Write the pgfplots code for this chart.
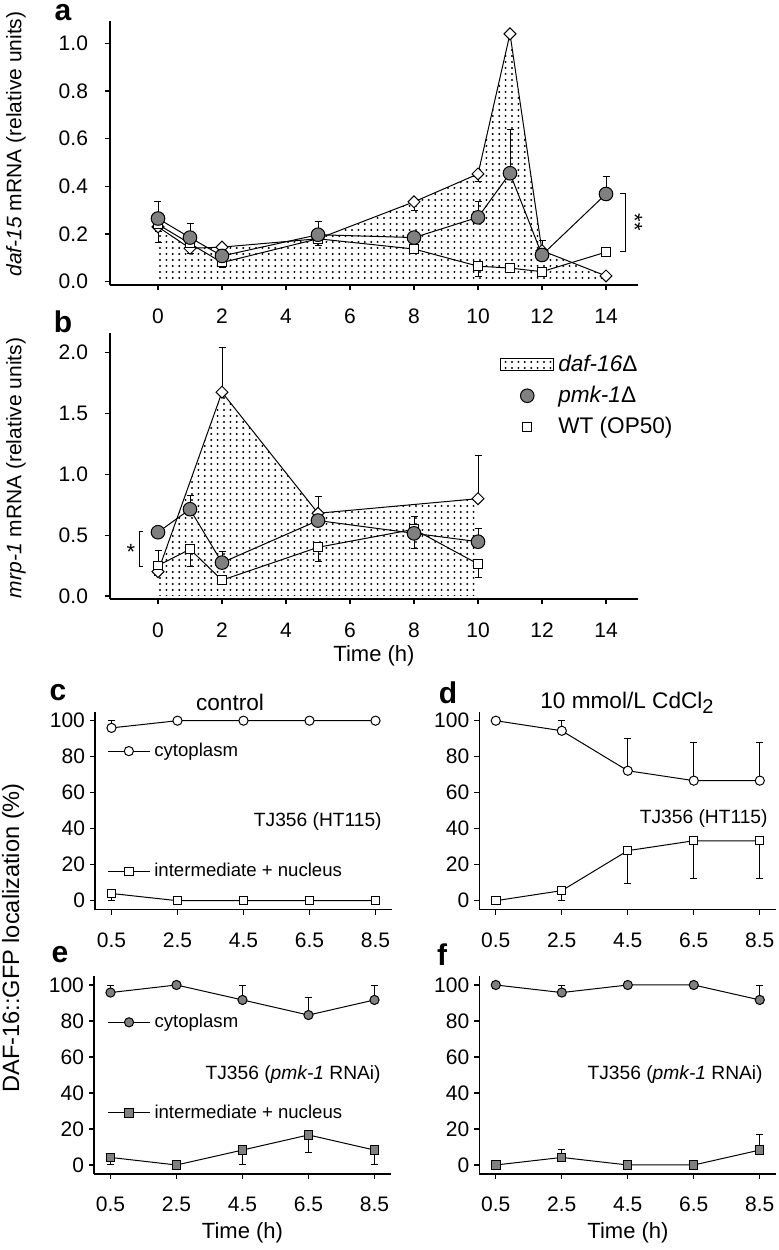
\documentclass[border=0pt]{standalone}
\usepackage{fontspec}
\setmainfont{Liberation Sans}
\usepackage{pgfplots}
\pgfplotsset{compat=1.18}
\usepackage{pgfplotstable}
\usetikzlibrary{patterns}

\definecolor{markgray}{RGB}{128,128,128}
\newcommand{\fs}[1]{\fontsize{#1}{#1}\selectfont}

% sparse dot fill used for daf-16
\pgfdeclarepatternformonly{sdots}{\pgfqpoint{-0.7pt}{-0.7pt}}{\pgfqpoint{0.7pt}{0.7pt}}{\pgfqpoint{3.2pt}{3pt}}%
  {\pgfpathcircle{\pgfpointorigin}{0.55pt}\pgfusepath{fill}}

% panel a : daf-15 mRNA
\pgfplotstableread{
x  y     ep    em
0  0.23  0     0.066
1  0.14  0     0.02
2  0.145 0     0
5  0.18  0     0.03
8  0.335 0     0.037
10 0.452 0     0.032
11 1.04  0     0
12 0.13  0     0
14 0.024 0     0
}\aDia
\pgfplotstableread{
x  y     ep    em
0  0.24  0     0.03
1  0.16  0     0
2  0.08  0     0.02
5  0.18  0     0.03
8  0.137 0     0
10 0.065 0     0.045
11 0.057 0     0
12 0.042 0     0
14 0.124 0     0
}\aSq
\pgfplotstableread{
x  y     ep    em
0  0.265 0.07  0
1  0.185 0.06  0
2  0.108 0.02  0
5  0.197 0.055 0
8  0.185 0     0
10 0.27  0.065 0
11 0.455 0.185 0
12 0.112 0.06  0
14 0.368 0.072 0
}\aCirc

% panel b : mrp-1 mRNA
\pgfplotstableread{
x  y     ep    em
0  0.2   0     0.035
2  1.675 0.37  0
5  0.68  0.136 0
10 0.80  0.353 0
}\bDia
\pgfplotstableread{
x  y     ep    em
0  0.25  0.12  0.085
1  0.384 0     0.144
2  0.13  0     0.02
5  0.40  0     0.12
8  0.548 0     0
10 0.263 0     0.11
}\bSq
\pgfplotstableread{
x  y     ep    em
0  0.524 0.03  0
1  0.713 0.11  0
2  0.274 0.09  0
5  0.62  0.07  0
8  0.515 0.135 0.125
10 0.446 0.11  0
}\bCirc

% panels c-f : DAF-16::GFP localization
\pgfplotstableread{
x   y     ep   em
0.5 96    4    0
2.5 100   0    0
4.5 100   0    0
6.5 100   0    0
8.5 100   0    0
}\cCyt
\pgfplotstableread{
x   y     ep   em
0.5 4     0    4
2.5 0     0    0
4.5 0     0    0
6.5 0     0    0
8.5 0     0    0
}\cInt
\pgfplotstableread{
x   y     ep   em
0.5 100   0    0
2.5 94.4  5.6  0
4.5 72.2  17.8 0
6.5 66.7  21   0
8.5 66.7  21   0
}\dCyt
\pgfplotstableread{
x   y     ep   em
0.5 0     0    0
2.5 5.6   0    5.6
4.5 27.8  0    18
6.5 33.3  0    21
8.5 33.3  0    21
}\dInt
\pgfplotstableread{
x   y     ep   em
0.5 95.8  4.2  0
2.5 100   0    0
4.5 91.7  8.3  0
6.5 83.3  9.6  0
8.5 91.7  8.3  0
}\eCyt
\pgfplotstableread{
x   y     ep   em
0.5 4.2   0    4.2
2.5 0     0    0
4.5 8.3   0    8.3
6.5 16.7  0    9.5
8.5 8.3   0    8.3
}\eInt
\pgfplotstableread{
x   y     ep   em
0.5 100   0    0
2.5 95.8  4.2  0
4.5 100   0    0
6.5 100   0    0
8.5 91.7  8.3  0
}\fCyt
\pgfplotstableread{
x   y     ep   em
0.5 0     0    0
2.5 4.2   4.5  0
4.5 0     0    0
6.5 0     0    0
8.5 8.3   8.4  0
}\fInt

\pgfplotsset{
  sp/.style={scale only axis, axis lines=left, axis line style={-, line width=0.7pt},
    tick align=outside, major tick length=2.5pt, tick style={black, line width=0.6pt},
    ticklabel style={font=\fs{10.5}}, /pgf/number format/assume math mode=true,
    clip=false},
  eb/.style={error bars/y dir=both, error bars/y explicit,
    error bars/error bar style={line width=0.5pt, black},
    error bars/error mark options={rotate=90, line width=0.5pt, mark size=1.75pt, black}},
  circ/.style={black, line width=0.5pt, mark=*, mark size=#1,
    mark options={draw=black, fill=markgray, line width=0.5pt}},
  ocirc/.style={black, line width=0.5pt, mark=*, mark size=#1,
    mark options={draw=black, fill=white, line width=0.5pt}},
  sq/.style={black, line width=0.5pt, mark=square*, mark size=#1,
    mark options={draw=black, fill=white, line width=0.5pt}},
  gsq/.style={black, line width=0.5pt, mark=square*, mark size=#1,
    mark options={draw=black, fill=markgray, line width=0.5pt}},
  dia/.style={black, line width=0.5pt, mark=square*, mark size=2.1pt,
    mark options={rotate=45, draw=black, fill=white, line width=0.5pt}},
  mrna/.style={sp, width=264pt, xmin=-1.5, xmax=15, xtick={0,2,...,14},
    xticklabel style={yshift=-6pt},
    yticklabel style={xshift=-5pt, /pgf/number format/.cd, fixed, fixed zerofill, precision=1}},
  lim/.style={sp, xmin=0, xmax=9, ymin=-5, ymax=105, width=148.5pt, height=99pt,
    xtick={0.5,2.5,4.5,6.5,8.5}, ytick={0,20,40,60,80,100},
    xticklabel style={yshift=-5.5pt, /pgf/number format/.cd, fixed, fixed zerofill, precision=1},
    yticklabel style={xshift=1pt}},
  leg/.style={legend style={draw=none, fill=none, font=\fs{9.3}, row sep=#1},
    legend cell align=left,
    legend image code/.code={\draw[mark repeat=2, mark phase=2]
      plot coordinates {(0pt,0pt) (10.5pt,0pt) (21pt,0pt)};}},
}

\begin{document}
\begin{tikzpicture}
\path[use as bounding box] (0,0) rectangle (389.5pt,625pt);

% ---- a ----
\begin{axis}[mrna, at={(55pt,482.5pt)}, anchor=south west, height=132pt,
  ymin=-0.014, ymax=1.094, ytick={0,0.2,0.4,0.6,0.8,1.0}]
\addplot[draw=none, pattern=sdots, forget plot] table[x=x, y=y] {\aDia} \closedcycle;
\addplot[dia, eb] table[x=x, y=y, y error plus=ep, y error minus=em] {\aDia};
\addplot[sq=2.2pt, eb] table[x=x, y=y, y error plus=ep, y error minus=em] {\aSq};
\addplot[circ=3.4pt, eb] table[x=x, y=y, y error plus=ep, y error minus=em] {\aCirc};
\draw[line width=0.5pt] (axis cs:14.45,0.368) -- (axis cs:14.6,0.368) -- (axis cs:14.6,0.125) -- (axis cs:14.45,0.125);
\node[rotate=-90, font=\fs{11}] at (axis cs:14.9,0.25) {**};
\end{axis}

% ---- b ----
\begin{axis}[mrna, at={(55pt,325.5pt)}, anchor=south west, height=133pt,
  ymin=-0.025, ymax=2.162, ytick={0,0.5,1,1.5,2},
  legend style={at={(0.727,0.95)}, anchor=north west, draw=none, fill=none,
    font=\fs{11.3}, row sep=2pt}, legend cell align=left]
\addplot[draw=none, pattern=sdots, forget plot] table[x=x, y=y] {\bDia} \closedcycle;
\addplot[dia, eb, forget plot] table[x=x, y=y, y error plus=ep, y error minus=em] {\bDia};
\addplot[sq=2.2pt, eb, forget plot] table[x=x, y=y, y error plus=ep, y error minus=em] {\bSq};
\addplot[circ=3.4pt, eb, forget plot] table[x=x, y=y, y error plus=ep, y error minus=em] {\bCirc};
\draw[line width=0.5pt] (axis cs:-0.46,0.526) -- (axis cs:-0.59,0.526) -- (axis cs:-0.59,0.241) -- (axis cs:-0.46,0.241);
\node[font=\fs{11}] at (axis cs:-0.85,0.36) {*};
\addlegendimage{legend image code/.code={\draw[pattern=sdots, line width=0.5pt] (0pt,-3pt) rectangle (26.5pt,3pt);}}
\addlegendentry{\textit{daf-16}Δ}
\addlegendimage{only marks, mark=*, mark size=3.4pt, mark options={draw=black, fill=markgray, line width=0.5pt},
  legend image code/.code={\draw plot coordinates {(13.25pt,0pt)};}}
\addlegendentry{\textit{pmk-1}Δ}
\addlegendimage{only marks, mark=square*, mark size=2.2pt, mark options={draw=black, fill=white, line width=0.5pt},
  legend image code/.code={\draw plot coordinates {(13.25pt,0pt)};}}
\addlegendentry{WT (OP50)}
\end{axis}

% ---- c ----
\begin{axis}[lim, leg=48pt, at={(47.5pt,170.15pt)}, anchor=south west,
  legend style={at={(0.02,0.885)}, anchor=north west}]
\addplot[ocirc=2.3pt, eb] table[x=x, y=y, y error plus=ep, y error minus=em] {\cCyt};
\addlegendentry{cytoplasm}
\addplot[sq=2.1pt, eb] table[x=x, y=y, y error plus=ep, y error minus=em] {\cInt};
\addlegendentry{intermediate + nucleus}
\node[anchor=east, font=\fs{9.6}] at (axis cs:8.9,44) {TJ356 (HT115)};
\end{axis}

% ---- d ----
\begin{axis}[lim, at={(239.65pt,170.15pt)}, anchor=south west]
\addplot[ocirc=2.3pt, eb] table[x=x, y=y, y error plus=ep, y error minus=em] {\dCyt};
\addplot[sq=2.1pt, eb] table[x=x, y=y, y error plus=ep, y error minus=em] {\dInt};
\node[anchor=east, font=\fs{9.6}] at (axis cs:8.95,45.5) {TJ356 (HT115)};
\end{axis}

% ---- e ----
\begin{axis}[lim, leg=33pt, at={(47pt,38pt)}, anchor=south west,
  legend style={at={(0.024,0.85)}, anchor=north west}]
\addplot[circ=2.3pt, eb] table[x=x, y=y, y error plus=ep, y error minus=em] {\eCyt};
\addlegendentry{cytoplasm}
\addplot[gsq=2.1pt, eb] table[x=x, y=y, y error plus=ep, y error minus=em] {\eInt};
\addlegendentry{intermediate + nucleus}
\node[anchor=east, font=\fs{9.6}] at (axis cs:8.9,50) {TJ356 (\textit{pmk-1} RNAi)};
\end{axis}

% ---- f ----
\begin{axis}[lim, at={(239.65pt,38pt)}, anchor=south west]
\addplot[circ=2.3pt, eb] table[x=x, y=y, y error plus=ep, y error minus=em] {\fCyt};
\addplot[gsq=2.1pt, eb] table[x=x, y=y, y error plus=ep, y error minus=em] {\fInt};
\node[anchor=east, font=\fs{9.6}] at (axis cs:8.8,50) {TJ356 (\textit{pmk-1} RNAi)};
\end{axis}

% panel letters, titles and axis titles
\node[font=\bfseries\fs{15}] at (31.5pt,618.5pt) {a};
\node[font=\bfseries\fs{15}] at (31.5pt,464pt) {b};
\node[font=\bfseries\fs{15}] at (29pt,278.5pt) {c};
\node[font=\bfseries\fs{15}] at (224pt,278.5pt) {d};
\node[font=\bfseries\fs{15}] at (30pt,147.5pt) {e};
\node[font=\bfseries\fs{15}] at (221pt,147.5pt) {f};
\node[rotate=90, font=\fs{10.5}] at (8pt,553pt) {\textit{daf-15} mRNA (relative units)};
\node[rotate=90, font=\fs{10.5}] at (8pt,391pt) {\textit{mrp-1} mRNA (relative units)};
\node[rotate=90, font=\fs{11.8}] at (6.5pt,156pt) {DAF-16::GFP localization (\%)};
\node[font=\fs{11}] at (187pt,297pt) {Time (h)};
\node[font=\fs{11}] at (121.25pt,8.5pt) {Time (h)};
\node[font=\fs{11}] at (314pt,8.5pt) {Time (h)};
\node[font=\fs{11.3}] at (115pt,274pt) {control};
\node[font=\fs{11.3}] at (313.5pt,273.5pt) {10 mmol/L CdCl\raisebox{-0.45ex}{\fs{10}2}};
\end{tikzpicture}
\end{document}
